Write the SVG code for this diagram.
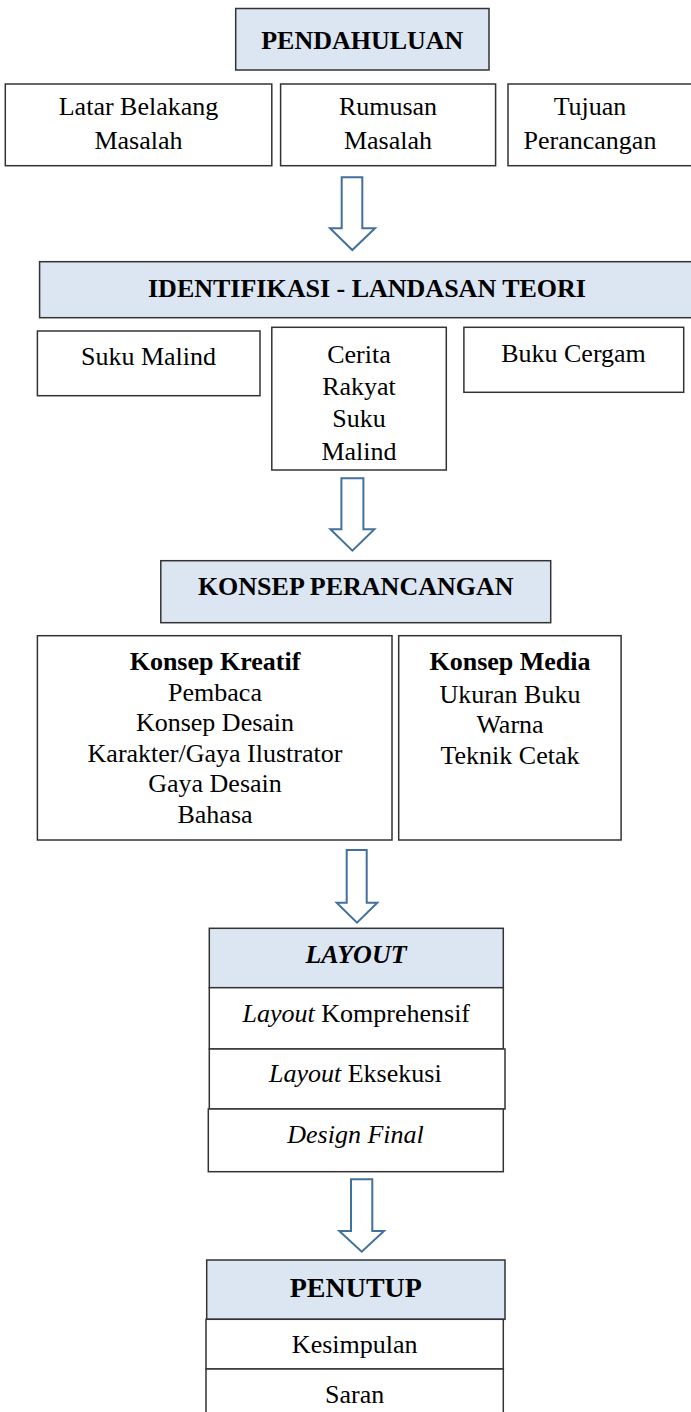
<svg xmlns="http://www.w3.org/2000/svg" width="691" height="1412" viewBox="0 0 691 1412">
<style>
  .box{fill:#ffffff;stroke:#333333;stroke-width:1.5}
  .hdr{fill:#dce6f2;stroke:#333333;stroke-width:1.5}
  .t{font-family:"Liberation Serif","Times New Roman",serif;font-size:26px;fill:#000;text-anchor:middle}
  .b{font-weight:bold}
  .i{font-style:italic}
  .arr{fill:#ffffff;stroke:#41719c;stroke-width:2;stroke-linejoin:miter}
</style>
<rect width="691" height="1412" fill="#ffffff"/>

<g id="pendahuluan">
  <rect class="hdr" x="235.7" y="8.5" width="253.3" height="61.5"/>
  <text class="t b" x="362.3" y="49.3">PENDAHULUAN</text>
</g>
<g id="latar-belakang">
  <rect class="box" x="5.3" y="84" width="266.5" height="81.7"/>
  <text class="t" x="138.5" y="115">Latar Belakang</text>
  <text class="t" x="138.5" y="149">Masalah</text>
</g>
<g id="rumusan-masalah">
  <rect class="box" x="280.6" y="84" width="215" height="81.7"/>
  <text class="t" x="388" y="115">Rumusan</text>
  <text class="t" x="388" y="149">Masalah</text>
</g>
<g id="tujuan-perancangan">
  <rect class="box" x="508" y="84" width="190" height="81.7"/>
  <text class="t" x="590" y="115">Tujuan</text>
  <text class="t" x="590" y="149">Perancangan</text>
</g>

<g id="identifikasi">
  <rect class="hdr" x="39.6" y="261.7" width="660" height="56"/>
  <text class="t b" x="367" y="296.7">IDENTIFIKASI - LANDASAN TEORI</text>
</g>
<g id="suku-malind">
  <rect class="box" x="37.4" y="331" width="222.6" height="64.7"/>
  <text class="t" x="148.5" y="365">Suku Malind</text>
</g>
<g id="cerita-rakyat">
  <rect class="box" x="271.8" y="327.3" width="174.5" height="142.7"/>
  <text class="t" x="359" y="362.7">Cerita</text>
  <text class="t" x="359" y="395">Rakyat</text>
  <text class="t" x="359" y="427.3">Suku</text>
  <text class="t" x="359" y="460">Malind</text>
</g>
<g id="buku-cergam">
  <rect class="box" x="463.9" y="327.3" width="219.8" height="65"/>
  <text class="t" x="573.5" y="361.7">Buku Cergam</text>
</g>

<g id="konsep-perancangan">
  <rect class="hdr" x="160.8" y="560.7" width="389.9" height="62"/>
  <text class="t b" x="355.7" y="595">KONSEP PERANCANGAN</text>
</g>
<g id="konsep-kreatif">
  <rect class="box" x="37.4" y="635.7" width="354.6" height="204.3"/>
  <text class="t b" x="215" y="670">Konsep Kreatif</text>
  <text class="t" x="215" y="700.7">Pembaca</text>
  <text class="t" x="215" y="730.7">Konsep Desain</text>
  <text class="t" x="215" y="761.7">Karakter/Gaya Ilustrator</text>
  <text class="t" x="215" y="792.3">Gaya Desain</text>
  <text class="t" x="215" y="823.3">Bahasa</text>
</g>
<g id="konsep-media">
  <rect class="box" x="398.7" y="635.7" width="222.4" height="204.3"/>
  <text class="t b" x="510" y="670">Konsep Media</text>
  <text class="t" x="510" y="702.7">Ukuran Buku</text>
  <text class="t" x="510" y="733.3">Warna</text>
  <text class="t" x="510" y="764">Teknik Cetak</text>
</g>

<g id="layout">
  <rect class="hdr" x="209.3" y="928.3" width="294" height="59.4"/>
  <text class="t b i" x="356" y="962.7">LAYOUT</text>
</g>
<g id="layout-komprehensif">
  <rect class="box" x="209.3" y="987.7" width="294" height="61.3"/>
  <text class="t" x="356.3" y="1021.7"><tspan class="i">Layout</tspan> Komprehensif</text>
</g>
<g id="layout-eksekusi">
  <rect class="box" x="209.3" y="1049" width="295.7" height="60"/>
  <text class="t" x="355.3" y="1082.3"><tspan class="i">Layout</tspan> Eksekusi</text>
</g>
<g id="design-final">
  <rect class="box" x="208.3" y="1109" width="295" height="62.7"/>
  <text class="t i" x="355.5" y="1143.3">Design Final</text>
</g>

<g id="penutup">
  <rect class="hdr" x="206.7" y="1260" width="298.3" height="59.3"/>
  <text class="t b" x="355.8" y="1297.3" style="font-size:28px">PENUTUP</text>
</g>
<g id="kesimpulan">
  <rect class="box" x="206" y="1319.3" width="297.3" height="49.7"/>
  <text class="t" x="354.7" y="1353.3">Kesimpulan</text>
</g>
<g id="saran">
  <rect class="box" x="206" y="1369" width="297.3" height="60"/>
  <text class="t" x="354.7" y="1403.3">Saran</text>
</g>

<g id="connectors">
  <polygon class="arr" points="341.7,177.3 362.3,177.3 362.3,228.3 375,228.3 352.3,250 330,228.3 341.7,228.3"/>
  <polygon class="arr" points="341.4,478.3 363.4,478.3 363.4,529.3 374.4,529.3 352.4,550.7 330.4,529.3 341.4,529.3"/>
  <polygon class="arr" points="346.7,850 366.7,850 366.7,902.7 377.3,902.7 357,922.7 336.7,902.7 346.7,902.7"/>
  <polygon class="arr" points="351,1179.3 372.3,1179.3 372.3,1231 384,1231 361.7,1251.7 339.3,1231 351,1231"/>
</g>
</svg>
